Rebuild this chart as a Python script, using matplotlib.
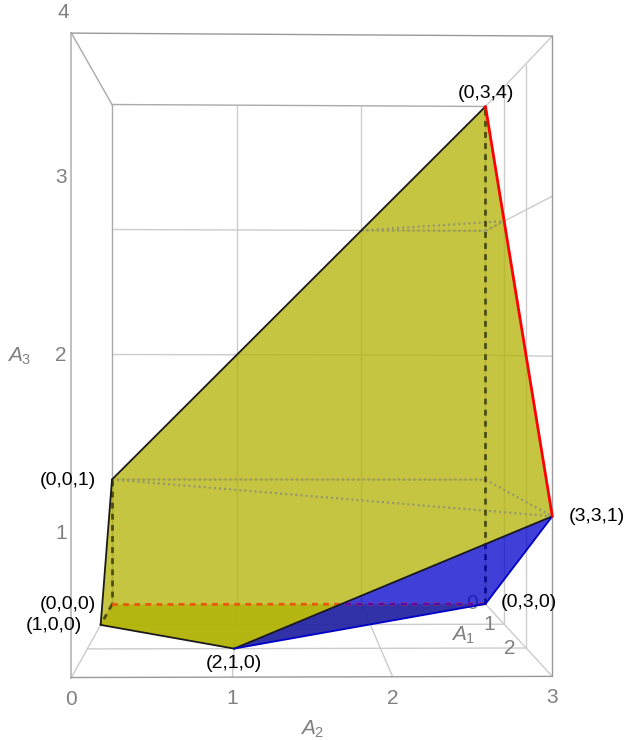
import matplotlib
matplotlib.use("Agg")
from matplotlib import pyplot as plt
from matplotlib.patches import Polygon
import numpy as np

plt.rcParams['font.family'] = ['Liberation Sans', 'DejaVu Sans']
plt.rcParams['mathtext.fontset'] = 'custom'
plt.rcParams['mathtext.rm'] = 'Liberation Sans'
plt.rcParams['mathtext.it'] = 'Liberation Sans:italic'

# corners of the polytope, (A1, A2, A3)
v000 = (0, 0, 0)
v100 = (1, 0, 0)
v210 = (2, 1, 0)
v030 = (0, 3, 0)
v001 = (0, 0, 1)
v331 = (3, 3, 1)
v034 = (0, 3, 4)

yellow_face = [v001, v034, v331, v210, v100]
floor_face = [v000, v100, v210, v030]
blue_face = [v210, v331, v030]

solid_black = [(v001, v034), (v001, v100), (v100, v210), (v210, v331)]
solid_blue = [(v210, v030), (v030, v331)]
dashed_back = [(v001, v000), (v000, v100)]

# level lines seen through the front face
dotted = [((0, 0, 1), (0, 3, 1)), ((0, 0, 1), (3, 3, 1)), ((0, 3, 1), (3, 3, 1)),
          ((0, 2, 3), (0, 3, 3)), ((0, 2, 3), (1, 3, 3)), ((0, 3, 3), (1, 3, 3))]

a1_ticks = [0, 1, 2]
a2_ticks = [0, 1, 2, 3]
a3_ticks = [1, 2, 3]

# vertex name, corner, label offset in pixels
vertex_labels = [("(0,0,1)", v001, (-44, -1)), ("(0,0,0)", v000, (-44, 0)),
                 ("(1,0,0)", v100, (-47, -1)), ("(2,1,0)", v210, (0, -15)),
                 ("(0,3,0)", v030, (43, 1)), ("(3,3,1)", v331, (45, 0)),
                 ("(0,3,4)", v034, (0, 13))]

# perspective camera, A1 points at the viewer
camera = np.array([[-18.87, 125.3, 0.0, 112.0],
                   [-26.27, 0.83, -125.0, 604.5],
                   [-0.0747, 0.00167, 0.0, 1.0]])


def project(p):
    q = camera @ np.array([p[0], p[1], p[2], 1.0])
    return q[0] / q[2], q[1] / q[2]


def seg(ax, a, b, **kw):
    pa, pb = project(a), project(b)
    return ax.plot([pa[0], pb[0]], [pa[1], pb[1]], **kw)[0]


fig = plt.figure(figsize=(6.38, 7.40), dpi=100)
ax = fig.add_axes([0, 0, 1, 1])
ax.set_xlim(0, 638)
ax.set_ylim(740, 0)
ax.axis('off')

grid = dict(color='#cccccc', lw=1.0, zorder=1, solid_capstyle='butt')
edge = dict(color='#aaaaaa', lw=1.0, zorder=1.5)
front = dict(color='#999999', lw=1.0, zorder=1.5)

# back wall
for k in [1, 2]:
    seg(ax, (0, k, 0), (0, k, 4), **grid)
for k in [1, 2, 3]:
    seg(ax, (0, 0, k), (0, 3, k), **grid)
seg(ax, (0, 0, 0), (0, 0, 4), **edge)
seg(ax, (0, 0, 4), (0, 3, 4), **edge)
seg(ax, (0, 3, 0), (0, 3, 4), **grid)

# right wall
for k in [1, 2]:
    seg(ax, (k, 3, 0), (k, 3, 4), **grid)
for k in [2, 3]:
    seg(ax, (0, 3, k), (3, 3, k), **grid)

# floor
for k in [1, 2]:
    seg(ax, (k, 0, 0), (k, 3, 0), **grid)
    seg(ax, (0, k, 0), (3, k, 0), **grid)

# box edges
seg(ax, (3, 0, 0), (0, 0, 0), **grid)
seg(ax, (3, 3, 0), (0, 3, 0), **grid)
seg(ax, (3, 0, 4), (0, 0, 4), **edge)
seg(ax, (3, 3, 4), (0, 3, 4), **grid)
seg(ax, (3, 0, 0), (3, 0, 4), color='#bbbbbb', lw=1.3, zorder=1.5)
seg(ax, (3, 0, 4), (3, 3, 4), **front)
seg(ax, (3, 3, 4), (3, 3, 0), **front)
seg(ax, (3, 3, 0), (3, 0, 0), **front)

tick_style = dict(color='#808080', fontsize=15, ha='center', va='center', zorder=1.8)
for k in a2_ticks:
    ax.text(*project((3, k, -0.135)), str(k), **tick_style)
for k in a3_ticks:
    ax.text(*project((4.0, 0.05, k)), str(k), **tick_style)
# top label sits closer in, against the edge of the picture
ax.text(*project((3.62, 0.02, 4)), "4", **tick_style)
for k in a1_ticks:
    ax.text(*project((k, 2.89, 0)), str(k), **tick_style)
ax.text(*project((3, 1.5, -0.326)), r'$\mathit{A}_{2}$', **tick_style)
ax.text(*project((5.32, 0, 2)), r'$\mathit{A}_{3}$', **tick_style)
ax.text(*project((1.5, 2.63, 0)), r'$\mathit{A}_{1}$', **tick_style)

# faces, same opacity for all of them
ax.add_patch(Polygon([project(p) for p in floor_face], closed=True, fc='#b2b202',
                     ec='none', alpha=0.75, zorder=2))
ax.add_patch(Polygon([project(p) for p in yellow_face], closed=True, fc='#b2b202',
                     ec='none', alpha=0.75, zorder=3))
blue_patch = Polygon([project(p) for p in blue_face], closed=True, fc='#0000cb',
                     ec='none', alpha=0.75, zorder=3)
ax.add_patch(blue_patch)

for a, b in dotted:
    seg(ax, a, b, color='#96966e', lw=1.6, ls=(0, (0.9, 1.4)), zorder=4)

dash = (0, (2.1, 1.9))
for a, b in dashed_back:
    seg(ax, a, b, color='#4d4d14', lw=2.0, ls=dash, zorder=4)

# hidden edges change colour under the blue face
seg(ax, v030, v034, color='#4d4d14', lw=2.0, ls=dash, zorder=4)
seg(ax, v000, v030, color='#e8590c', lw=2.0, ls=dash, zorder=4)
hidden = seg(ax, v030, v034, color='#0808b0', lw=2.0, ls=dash, zorder=4.1)
hidden.set_clip_path(blue_patch)
hidden = seg(ax, v000, v030, color='#5a08b0', lw=2.0, ls=dash, zorder=4.1)
hidden.set_clip_path(blue_patch)

for a, b in solid_black:
    seg(ax, a, b, color='#1a1a1a', lw=1.3, zorder=5, solid_capstyle='round')
for a, b in solid_blue:
    seg(ax, a, b, color='#0000c8', lw=1.3, zorder=5, solid_capstyle='round')
seg(ax, v034, v331, color='#ff0000', lw=2.0, zorder=5.5, solid_capstyle='round')

for name, p, off in vertex_labels:
    ax.annotate(name, xy=project(p), xytext=off, textcoords='offset pixels',
                ha='center', va='center', fontsize=14, color='black', zorder=6)

fig.savefig('out.png', dpi=100)
